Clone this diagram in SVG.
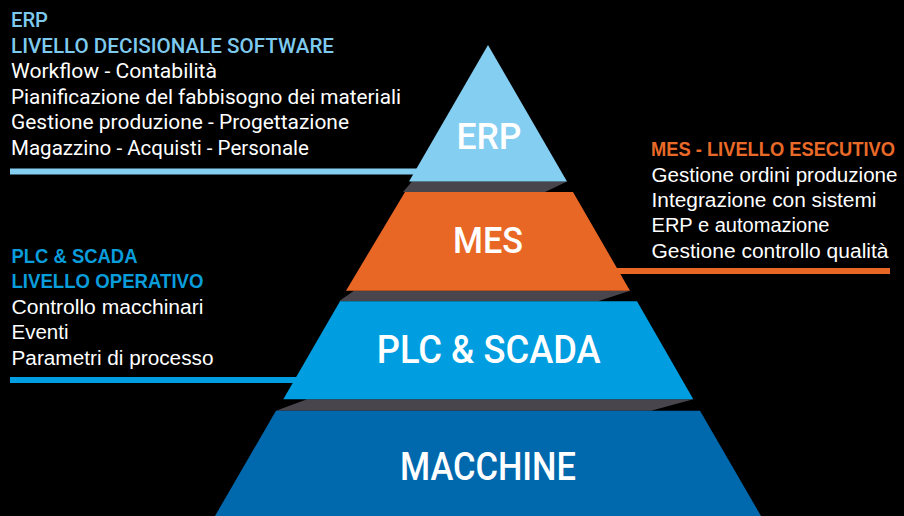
<svg xmlns="http://www.w3.org/2000/svg" width="904" height="516" viewBox="0 0 904 516">
  <style>
    .body { font-family: Roboto, "Liberation Sans", sans-serif; font-size: 20px; fill: #ffffff; }
    .body2 { font-family: "Liberation Sans", Roboto, sans-serif; font-size: 20px; fill: #ffffff; }
    .ttl { font-family: Roboto, "Liberation Sans", sans-serif; font-size: 20px; font-weight: 500; }
    .ttl2 { font-family: "Liberation Sans", Roboto, sans-serif; font-size: 20px; font-weight: bold; }
    .tier { font-family: Roboto, "Liberation Sans", sans-serif; font-weight: 500; fill: #ffffff; text-anchor: middle; }
    .band { fill: #48464c; }
  </style>
  <rect x="0" y="0" width="904" height="516" fill="#000000"/>

  <g id="connectors">
    <rect x="10" y="168.5" width="420" height="6" fill="#84cef2"/>
    <rect x="600" y="268" width="290" height="6" fill="#e96725"/>
    <rect x="10" y="377" width="300" height="6" fill="#009ee0"/>
  </g>

  <g id="bands">
    <polygon class="band" points="412,181.5 567,181.5 545,192 403,192"/>
    <polygon class="band" points="354,290.7 630,290.7 598,301.3 339,301.3"/>
    <polygon class="band" points="307,399.3 693.3,399.3 651,410.7 276,410.7"/>
  </g>

  <g id="tier-erp">
    <polygon points="488,45 567,181.5 409,181.5" fill="#84cef2"/>
    <text class="tier" x="489" y="149.3" font-size="36" font-weight="400" textLength="65" lengthAdjust="spacingAndGlyphs">ERP</text>
  </g>
  <g id="tier-mes">
    <polygon points="405,192 573,192 630,290.7 346,290.7" fill="#e96725"/>
    <text class="tier" x="488" y="253.3" font-size="37" textLength="70" lengthAdjust="spacingAndGlyphs">MES</text>
  </g>
  <g id="tier-plc">
    <polygon points="340,301.3 637,301.3 693.3,399.3 283.3,399.3" fill="#009ee0"/>
    <text class="tier" x="488.7" y="363.3" font-size="38" textLength="224" lengthAdjust="spacingAndGlyphs">PLC &amp; SCADA</text>
  </g>
  <g id="tier-macchine">
    <polygon points="276,410.7 700,410.7 761,516 215,516" fill="#0069ae"/>
    <text class="tier" x="488" y="480" font-size="38" textLength="176" lengthAdjust="spacingAndGlyphs">MACCHINE</text>
  </g>

  <g id="desc-erp">
    <text class="ttl" x="11" y="26.7" fill="#7ecaee" textLength="37" lengthAdjust="spacingAndGlyphs">ERP</text>
    <text class="ttl" x="11" y="52.5" fill="#7ecaee" textLength="323" lengthAdjust="spacingAndGlyphs">LIVELLO DECISIONALE SOFTWARE</text>
    <text class="body" x="11" y="78" textLength="206" lengthAdjust="spacingAndGlyphs">Workflow - Contabilità</text>
    <text class="body" x="11" y="103.5" textLength="390" lengthAdjust="spacingAndGlyphs">Pianificazione del fabbisogno dei materiali</text>
    <text class="body" x="11" y="129.3" textLength="338" lengthAdjust="spacingAndGlyphs">Gestione produzione - Progettazione</text>
    <text class="body" x="11" y="155" textLength="298" lengthAdjust="spacingAndGlyphs">Magazzino - Acquisti - Personale</text>
  </g>

  <g id="desc-mes">
    <text class="ttl2" x="651" y="156" fill="#e96a28" font-size="18.5" textLength="244" lengthAdjust="spacingAndGlyphs">MES - LIVELLO ESECUTIVO</text>
    <text class="body2" x="651.5" y="181.5" textLength="246" lengthAdjust="spacingAndGlyphs">Gestione ordini produzione</text>
    <text class="body2" x="651.5" y="207" textLength="225" lengthAdjust="spacingAndGlyphs">Integrazione con sistemi</text>
    <text class="body2" x="651.5" y="232" textLength="178" lengthAdjust="spacingAndGlyphs">ERP e automazione</text>
    <text class="body2" x="651.5" y="257.5" textLength="237" lengthAdjust="spacingAndGlyphs">Gestione controllo qualità</text>
  </g>

  <g id="desc-plc">
    <text class="ttl2" x="11.5" y="262.7" fill="#0a9ddc" textLength="126" lengthAdjust="spacingAndGlyphs">PLC &amp; SCADA</text>
    <text class="ttl2" x="11.5" y="288" fill="#0a9ddc" textLength="192" lengthAdjust="spacingAndGlyphs">LIVELLO OPERATIVO</text>
    <text class="body2" x="11.5" y="313.5" textLength="192" lengthAdjust="spacingAndGlyphs">Controllo macchinari</text>
    <text class="body2" x="11.5" y="339" textLength="57" lengthAdjust="spacingAndGlyphs">Eventi</text>
    <text class="body2" x="11.5" y="364.5" textLength="202" lengthAdjust="spacingAndGlyphs">Parametri di processo</text>
  </g>
</svg>
